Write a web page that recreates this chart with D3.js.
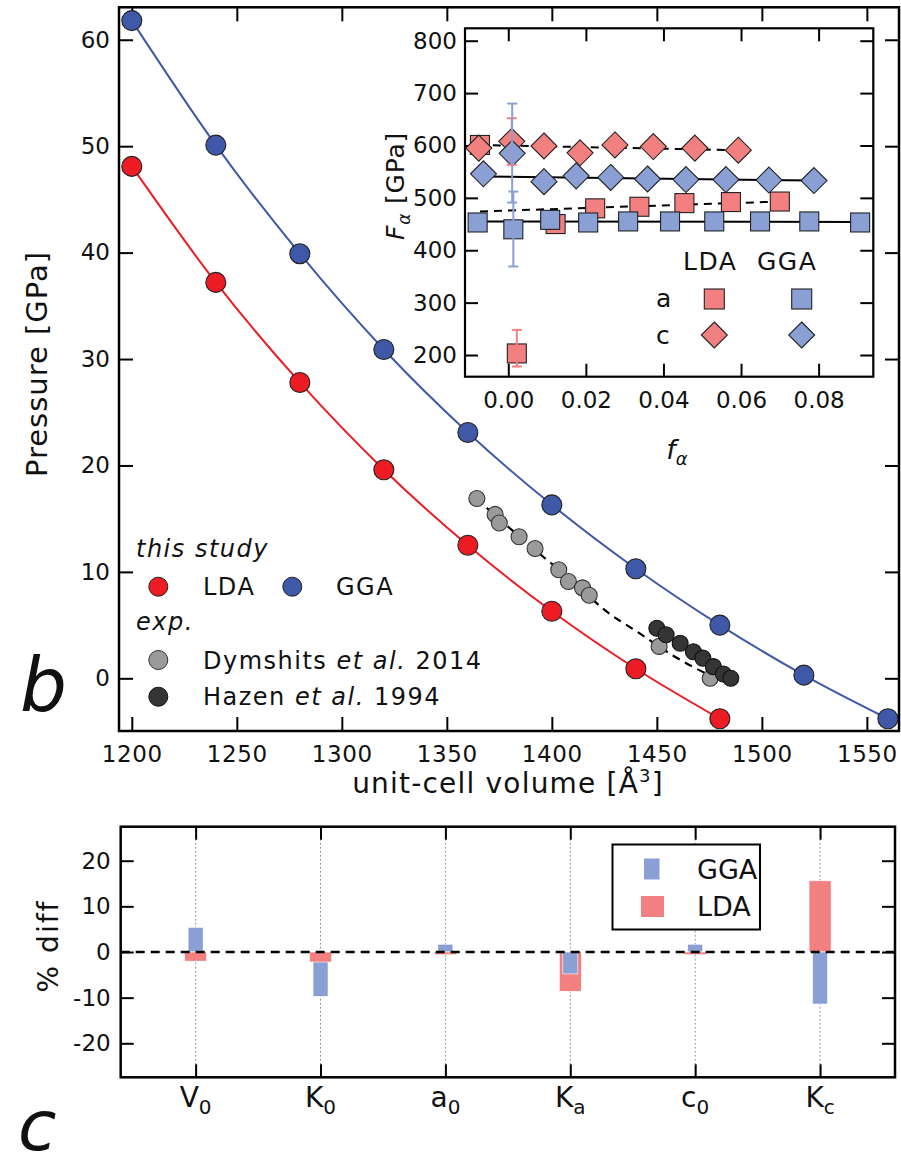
<!DOCTYPE html>
<html>
<head>
<meta charset="utf-8">
<script src="https://cdn.jsdelivr.net/npm/d3@7"></script>
<style>
  body { margin: 0; background: #fff; }
  svg { display: block; }
  text { font-family: "DejaVu Sans", Verdana, sans-serif; fill: #111; }
</style>
</head>
<body>
<svg id="fig" width="901" height="1157"></svg>
<script>
// ---------- panel b: pressure vs unit-cell volume ----------
const volumeLDA   = [1200, 1240, 1280, 1320, 1360, 1400, 1440, 1480];
const pressureLDA = [48.1, 37.2, 27.8, 19.6, 12.5, 6.3, 0.9, -3.8];
const volumeGGA   = [1200, 1240, 1280, 1320, 1360, 1400, 1440, 1480, 1520, 1560];
const pressureGGA = [61.8, 50.1, 39.9, 30.9, 23.1, 16.3, 10.3, 5.0, 0.3, -3.8];
const volumeDymshits   = [1364.3, 1373.0, 1375.0, 1384.4, 1392.0, 1403.3, 1407.9, 1414.6, 1417.8, 1451.1, 1475.4];
const pressureDymshits = [16.9, 15.4, 14.6, 13.3, 12.2, 10.2, 9.1, 8.5, 7.8, 3.0, 0.0];
const volumeHazen   = [1450.0, 1454.4, 1461.1, 1467.4, 1471.9, 1476.9, 1481.7, 1485.2];
const pressureHazen = [4.7, 4.1, 3.3, 2.5, 1.9, 1.1, 0.4, 0.0];
// equation-of-state fit to the experimental points
const volumeExpFit   = [1364, 1380, 1396, 1412, 1424, 1442, 1458, 1474, 1486];
const pressureExpFit = [16.9, 14.1, 11.4, 8.8, 6.6, 4.2, 2.1, 0.4, -0.6];
const volumeTicks   = [1200, 1250, 1300, 1350, 1400, 1450, 1500, 1550];
const pressureTicks = [0, 10, 20, 30, 40, 50, 60];

// ---------- inset: normal stress F vs Eulerian strain f ----------
const strainLDAa  = [-0.0073, 0.0022, 0.0122, 0.0224, 0.0338, 0.0454, 0.0574, 0.0700];
const modulusLDAa = [601, 203, 450, 480, 483, 490, 492, 493];
const strainGGAa  = [-0.0079, 0.0013, 0.0108, 0.0206, 0.0309, 0.0417, 0.0531, 0.0649, 0.0776, 0.0907];
const modulusGGAa = [453, 440, 458, 453, 455, 455, 455, 455, 455, 453];
const strainLDAc  = [-0.0076, 0.0009, 0.0092, 0.0185, 0.0275, 0.0374, 0.0481, 0.0593];
const modulusLDAc = [595, 608, 599, 586, 601, 598, 595, 591];
const strainGGAc  = [-0.0064, 0.0010, 0.0092, 0.0175, 0.0264, 0.0359, 0.0458, 0.0561, 0.0672, 0.0788];
const modulusGGAc = [546, 585, 531, 542, 539, 536, 535, 535, 534, 533];
// uncertainty bars: [f, lower F, upper F]
const errorBarsLDA = [[0.0022, 178, 248], [0.0009, 563, 652]];
const errorBarsGGA = [[0.0013, 369, 512], [0.0010, 491, 680]];
// linear fits: [f, F] end points
const fitLDAa = [[-0.0073, 474], [0.0700, 493]];
const fitGGAa = [[-0.0079, 455], [0.0907, 454]];
const fitLDAc = [[-0.0076, 601], [0.0593, 591]];
const fitGGAc = [[-0.0064, 541], [0.0788, 533]];
const strainTicks  = [0, 0.02, 0.04, 0.06, 0.08];
const modulusTicks = [200, 300, 400, 500, 600, 700, 800];

// ---------- panel c: % difference from experiment ----------
const paramBase = ["V", "K", "a", "K", "c", "K"];
const paramSub  = ["0", "0", "0", "a", "0", "c"];
const diffGGA = [5.4, -9.7, 1.7, -4.8, 1.7, -11.4];
const diffLDA = [-2.0, -2.2, -0.6, -8.6, -0.6, 15.6];
const diffTicks = [-20, -10, 0, 10, 20];

// ---------- styling ----------
const RED = "#ed1c24", BLUE = "#3f58a8";
const RED_L = "#f28080", BLUE_L = "#8a9fd3";
const GREY = "#9a9a9a", DARK = "#353535";

const svg = d3.select("#fig");

function styleAxis(g, size) {
  g.attr("font-family", '"DejaVu Sans", Verdana, sans-serif').attr("font-size", size);
  g.select(".domain").remove();
  g.selectAll(".tick line").attr("stroke", "#000").attr("stroke-width", 2);
  g.selectAll(".tick text").attr("fill", "#111");
}

// ================= panel b =================
const M = { left: 119, right: 899, top: 7.3, bottom: 731 };
const x = d3.scaleLinear().domain([1193.9, 1565.3]).range([M.left, M.right]);
const y = d3.scaleLinear().domain([-4.95, 63.05]).range([M.bottom, M.top]);

const gb = svg.append("g");

gb.append("g").attr("transform", `translate(0,${M.bottom})`)
  .call(d3.axisBottom(x).tickValues(volumeTicks).tickSizeInner(-14).tickSizeOuter(0)
        .tickPadding(15).tickFormat(d => d))
  .call(g => styleAxis(g, 23))
  .call(g => g.selectAll(".tick text").attr("letter-spacing", 0.6));
gb.append("g").attr("transform", `translate(0,${M.top})`)
  .call(d3.axisTop(x).tickValues(volumeTicks).tickSizeInner(-14).tickSizeOuter(0).tickFormat(""))
  .call(g => styleAxis(g, 23));
gb.append("g").attr("transform", `translate(${M.left},0)`)
  .call(d3.axisLeft(y).tickValues(pressureTicks).tickSizeInner(-14).tickSizeOuter(0)
        .tickPadding(9).tickFormat(d => d))
  .call(g => styleAxis(g, 23));
gb.append("g").attr("transform", `translate(${M.right},0)`)
  .call(d3.axisRight(y).tickValues(pressureTicks).tickSizeInner(-14).tickSizeOuter(0).tickFormat(""))
  .call(g => styleAxis(g, 23));

gb.append("rect").attr("x", M.left).attr("y", M.top)
  .attr("width", M.right - M.left).attr("height", M.bottom - M.top)
  .attr("fill", "none").attr("stroke", "#000").attr("stroke-width", 2.5);

const curve = d3.line().x(d => x(d[0])).y(d => y(d[1])).curve(d3.curveMonotoneX);
const zip = (a, b) => a.map((v, i) => [v, b[i]]);

gb.append("path").datum(zip(volumeLDA, pressureLDA)).attr("d", curve)
  .attr("fill", "none").attr("stroke", RED).attr("stroke-width", 2);
gb.append("path").datum(zip(volumeGGA, pressureGGA)).attr("d", curve)
  .attr("fill", "none").attr("stroke", BLUE).attr("stroke-width", 2);
gb.append("path").datum(zip(volumeExpFit, pressureExpFit)).attr("d", curve)
  .attr("fill", "none").attr("stroke", "#000").attr("stroke-width", 2.2)
  .attr("stroke-dasharray", "8,6");

function dots(g, xs, ys, r, fill, stroke) {
  g.append("g").selectAll("circle").data(zip(xs, ys)).join("circle")
    .attr("cx", d => x(d[0])).attr("cy", d => y(d[1])).attr("r", r)
    .attr("fill", fill).attr("stroke", stroke).attr("stroke-width", 1.1);
}
dots(gb, volumeDymshits, pressureDymshits, 8, GREY, "#333");
dots(gb, volumeHazen, pressureHazen, 8, DARK, "#111");
dots(gb, volumeLDA, pressureLDA, 10, RED, "#222");
dots(gb, volumeGGA, pressureGGA, 10, BLUE, "#222");

// axis titles
gb.append("text").attr("transform", "translate(47,364) rotate(-90)")
  .attr("text-anchor", "middle").attr("font-size", 29).attr("letter-spacing", 1)
  .text("Pressure [GPa]");
const xt = gb.append("text").attr("x", 508).attr("y", 793)
  .attr("text-anchor", "middle").attr("font-size", 28).attr("letter-spacing", 1.2);
xt.append("tspan").text("unit-cell volume [Å");
xt.append("tspan").attr("dy", -11).attr("font-size", 18).text("3");
xt.append("tspan").attr("dy", 11).text("]");

// legend
const lg = gb.append("g").attr("font-size", 24).attr("letter-spacing", 1.5);
lg.append("text").attr("x", 136).attr("y", 557).attr("font-style", "italic").text("this study");
lg.append("circle").attr("cx", 158.3).attr("cy", 586.7).attr("r", 9.5).attr("fill", RED).attr("stroke", "#222");
lg.append("text").attr("x", 203).attr("y", 595).text("LDA");
lg.append("circle").attr("cx", 292.3).attr("cy", 586.7).attr("r", 9.5).attr("fill", BLUE).attr("stroke", "#222");
lg.append("text").attr("x", 336).attr("y", 595).text("GGA");
lg.append("text").attr("x", 136).attr("y", 630).attr("font-style", "italic").text("exp.");
lg.append("circle").attr("cx", 158.3).attr("cy", 660).attr("r", 9.5).attr("fill", GREY).attr("stroke", "#333");
const t1 = lg.append("text").attr("x", 203).attr("y", 668.5);
t1.append("tspan").text("Dymshits ");
t1.append("tspan").attr("font-style", "italic").text("et al.");
t1.append("tspan").text(" 2014");
lg.append("circle").attr("cx", 158.3).attr("cy", 696.7).attr("r", 9.5).attr("fill", DARK).attr("stroke", "#111");
const t2 = lg.append("text").attr("x", 203).attr("y", 705);
t2.append("tspan").text("Hazen ");
t2.append("tspan").attr("font-style", "italic").text("et al.");
t2.append("tspan").text(" 1994");

svg.append("text").attr("x", 20).attr("y", 711).attr("font-size", 74)
  .attr("font-style", "italic").text("b");

// ================= inset =================
const I = { left: 465, right: 873.3, top: 28.3, bottom: 376.7 };
const fx = d3.scaleLinear().domain([-0.01116, 0.0941]).range([I.left, I.right]);
const fy = d3.scaleLinear().domain([158.6, 823.7]).range([I.bottom, I.top]);
const gi = svg.append("g");

gi.append("rect").attr("x", I.left).attr("y", I.top)
  .attr("width", I.right - I.left).attr("height", I.bottom - I.top).attr("fill", "#fff");

gi.append("g").attr("transform", `translate(0,${I.bottom})`)
  .call(d3.axisBottom(fx).tickValues(strainTicks).tickSizeInner(-13).tickSizeOuter(0)
        .tickPadding(15).tickFormat(d3.format(".2f")))
  .call(g => styleAxis(g, 23));
gi.append("g").attr("transform", `translate(0,${I.top})`)
  .call(d3.axisTop(fx).tickValues(strainTicks).tickSizeInner(-13).tickSizeOuter(0).tickFormat(""))
  .call(g => styleAxis(g, 23));
gi.append("g").attr("transform", `translate(${I.left},0)`)
  .call(d3.axisLeft(fy).tickValues(modulusTicks).tickSizeInner(-13).tickSizeOuter(0)
        .tickPadding(8).tickFormat(d => d))
  .call(g => styleAxis(g, 23));
gi.append("g").attr("transform", `translate(${I.right},0)`)
  .call(d3.axisRight(fy).tickValues(modulusTicks).tickSizeInner(-13).tickSizeOuter(0).tickFormat(""))
  .call(g => styleAxis(g, 23));

gi.append("rect").attr("x", I.left).attr("y", I.top)
  .attr("width", I.right - I.left).attr("height", I.bottom - I.top)
  .attr("fill", "none").attr("stroke", "#000").attr("stroke-width", 2.2);

const fline = d3.line().x(d => fx(d[0])).y(d => fy(d[1]));
[[fitLDAa, "8,6"], [fitGGAa, null], [fitLDAc, "8,6"], [fitGGAc, null]].forEach(([pts, dash]) => {
  gi.append("path").datum(pts).attr("d", fline).attr("fill", "none")
    .attr("stroke", "#000").attr("stroke-width", 2).attr("stroke-dasharray", dash);
});

const SQ = 19, DI = 13;
function squares(xs, ys, fill) {
  gi.append("g").selectAll("rect").data(zip(xs, ys)).join("rect")
    .attr("x", d => fx(d[0]) - SQ / 2).attr("y", d => fy(d[1]) - SQ / 2)
    .attr("width", SQ).attr("height", SQ)
    .attr("fill", fill).attr("stroke", "#222").attr("stroke-width", 1.1);
}
function diamonds(xs, ys, fill) {
  gi.append("g").selectAll("path").data(zip(xs, ys)).join("path")
    .attr("d", d => {
      const cx = fx(d[0]), cy = fy(d[1]);
      return `M${cx},${cy - DI}L${cx + DI},${cy}L${cx},${cy + DI}L${cx - DI},${cy}Z`;
    })
    .attr("fill", fill).attr("stroke", "#222").attr("stroke-width", 1.1);
}
squares(strainLDAa, modulusLDAa, RED_L);
squares(strainGGAa, modulusGGAa, BLUE_L);
diamonds(strainLDAc, modulusLDAc, RED_L);
diamonds(strainGGAc, modulusGGAc, BLUE_L);

function errorBars(bars, color) {
  const g = gi.append("g").attr("stroke", color).attr("stroke-width", 2);
  bars.forEach(([f, lo, hi]) => {
    const cx = fx(f);
    g.append("line").attr("x1", cx).attr("x2", cx).attr("y1", fy(lo)).attr("y2", fy(hi));
    [lo, hi].forEach(v => g.append("line").attr("x1", cx - 5).attr("x2", cx + 5)
      .attr("y1", fy(v)).attr("y2", fy(v)));
  });
}
errorBars(errorBarsLDA, RED_L);
errorBars(errorBarsGGA, BLUE_L);

// inset legend
const il = gi.append("g").attr("font-size", 25).attr("letter-spacing", 1.5);
il.append("text").attr("x", 683).attr("y", 270).text("LDA");
il.append("text").attr("x", 757).attr("y", 270).text("GGA");
il.append("text").attr("x", 656).attr("y", 307).text("a");
il.append("text").attr("x", 656).attr("y", 343.5).text("c");
[[714.3, RED_L], [801.7, BLUE_L]].forEach(([cx, c]) => {
  il.append("rect").attr("x", cx - 10).attr("y", 289).attr("width", 20).attr("height", 20)
    .attr("fill", c).attr("stroke", "#222").attr("stroke-width", 1.1);
  il.append("path").attr("d", `M${cx},${335 - DI}L${cx + DI},335L${cx},${335 + DI}L${cx - DI},335Z`)
    .attr("fill", c).attr("stroke", "#222").attr("stroke-width", 1.1);
});

// inset axis titles
const iy = gi.append("text").attr("transform", "translate(404,186) rotate(-90)")
  .attr("text-anchor", "middle").attr("font-size", 25).attr("letter-spacing", 0.8);
iy.append("tspan").attr("font-style", "italic").text("F");
iy.append("tspan").attr("font-style", "italic").attr("font-size", 17).attr("dy", 6).text("α");
iy.append("tspan").attr("dy", -6).text(" [GPa]");
const ix = gi.append("text").attr("x", 677).attr("y", 459).attr("text-anchor", "middle").attr("font-size", 27);
ix.append("tspan").attr("font-style", "italic").text("f");
ix.append("tspan").attr("font-style", "italic").attr("font-size", 18).attr("dy", 6).text("α");

// ================= panel c =================
const C = { left: 120.7, right: 895, top: 826.7, bottom: 1077.3 };
const params = paramBase.map((b, i) => b + paramSub[i]);
const cx = d3.scalePoint().domain(params).range([C.left, C.right]).padding(0.6);
const cy = d3.scaleLinear().domain([-27.45, 27.45]).range([C.bottom, C.top]);
const gc = svg.append("g");

// dotted guides at each parameter
gc.append("g").selectAll("line").data(params).join("line")
  .attr("x1", d => cx(d)).attr("x2", d => cx(d)).attr("y1", C.top).attr("y2", C.bottom)
  .attr("stroke", "#999").attr("stroke-width", 1).attr("stroke-dasharray", "2,2");

gc.append("g").attr("transform", `translate(0,${C.bottom})`)
  .call(d3.axisBottom(cx).tickSizeInner(-13).tickSizeOuter(0).tickFormat(""))
  .call(g => styleAxis(g, 23));
gc.append("g").attr("transform", `translate(0,${C.top})`)
  .call(d3.axisTop(cx).tickSizeInner(-13).tickSizeOuter(0).tickFormat(""))
  .call(g => styleAxis(g, 23));
gc.append("g").attr("transform", `translate(${C.left},0)`)
  .call(d3.axisLeft(cy).tickValues(diffTicks).tickSizeInner(-13).tickSizeOuter(0)
        .tickPadding(10).tickFormat(d => String(d)))
  .call(g => styleAxis(g, 23));
gc.append("g").attr("transform", `translate(${C.right},0)`)
  .call(d3.axisRight(cy).tickValues(diffTicks).tickSizeInner(-13).tickSizeOuter(0).tickFormat(""))
  .call(g => styleAxis(g, 23));

// bars: the longer bar of each pair is drawn first so the shorter stays visible
const bars = [];
params.forEach((p, i) => {
  const pair = [
    { p, v: diffGGA[i], w: 15, c: BLUE_L },
    { p, v: diffLDA[i], w: 22, c: RED_L }
  ].sort((a, b) => Math.abs(b.v) - Math.abs(a.v));
  bars.push(...pair);
});
gc.append("g").selectAll("rect").data(bars).join("rect")
  .attr("x", d => cx(d.p) - d.w / 2).attr("width", d => d.w)
  .attr("y", d => cy(Math.max(0, d.v))).attr("height", d => Math.abs(cy(d.v) - cy(0)))
  .attr("fill", d => d.c).attr("stroke", "#fff").attr("stroke-width", 0.6);

gc.append("line").attr("x1", C.left).attr("x2", C.right).attr("y1", cy(0)).attr("y2", cy(0))
  .attr("stroke", "#000").attr("stroke-width", 2.4).attr("stroke-dasharray", "9,6");

gc.append("rect").attr("x", C.left).attr("y", C.top)
  .attr("width", C.right - C.left).attr("height", C.bottom - C.top)
  .attr("fill", "none").attr("stroke", "#000").attr("stroke-width", 2.5);

// parameter labels with subscripts
const pl = gc.append("g").attr("font-size", 28).attr("text-anchor", "middle");
params.forEach((p, i) => {
  const t = pl.append("text").attr("x", cx(p)).attr("y", 1107);
  t.append("tspan").text(paramBase[i]);
  t.append("tspan").attr("font-size", 20).attr("dy", 7).text(paramSub[i]);
});

// legend box
const cl = gc.append("g");
cl.append("rect").attr("x", 612.5).attr("y", 844.5).attr("width", 147.5).attr("height", 85)
  .attr("fill", "#fff").attr("stroke", "#000").attr("stroke-width", 2);
cl.append("rect").attr("x", 644).attr("y", 858.5).attr("width", 15.5).attr("height", 21).attr("fill", BLUE_L);
cl.append("rect").attr("x", 641).attr("y", 896).attr("width", 23).attr("height", 21).attr("fill", RED_L);
cl.append("text").attr("x", 697).attr("y", 878.5).attr("font-size", 27).text("GGA");
cl.append("text").attr("x", 697).attr("y", 916).attr("font-size", 27).text("LDA");

gc.append("text").attr("transform", "translate(58,946) rotate(-90)")
  .attr("text-anchor", "middle").attr("font-size", 28).attr("letter-spacing", 2)
  .text("% diff");

svg.append("text").attr("x", 18).attr("y", 1150).attr("font-size", 70)
  .attr("font-style", "italic").text("c");
</script>
</body>
</html>
